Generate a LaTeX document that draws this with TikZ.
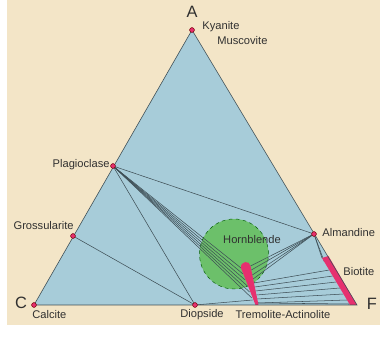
\documentclass[tikz,border=0pt]{standalone}
\usepackage{fontspec}
\setmainfont{Liberation Sans}
\usepackage{tikz}
\usetikzlibrary{shapes.geometric, positioning}

\definecolor{paper}{HTML}{F3E5C7}
\definecolor{facies}{HTML}{A7CCD9}
\definecolor{hbl}{HTML}{6CC06A}
\definecolor{sspink}{HTML}{E6306F}
\definecolor{tiegray}{HTML}{3E4E55}
\definecolor{textgray}{HTML}{303030}

\begin{document}
\begin{tikzpicture}[x=0.03cm, y=-0.03cm,
        mineral/.style={circle, draw=red!45!black, fill=sspink, inner sep=0pt, minimum size=4pt, line width=0.3pt},
        lbl/.style={font=\fontsize{9.5}{11}\selectfont, text=textgray, inner sep=1pt},
        corner/.style={font=\fontsize{14}{16}\selectfont, text=textgray, inner sep=0pt},
        tie/.style={draw=tiegray, line width=0.45pt}
    ]
        \useasboundingbox (0,0) rectangle (380,337);
        \fill[paper] (7,0) rectangle (380,325);

        % ================= TRIANGLE ACF =================
        \coordinate (A) at (192,30);
        \coordinate (C) at (34,305);
        \coordinate (F) at (357,305);
        \fill[facies] (A) -- (C) -- (F) -- cycle;

        % Hornblende field
        \node[ellipse, draw=green!35!black, dashed, fill=hbl, line width=0.4pt,
              minimum width=2.07cm, minimum height=2.1cm, inner sep=0pt] (hfield) at (234,254) {};

        % mineral points
        \node[mineral] (kya) at (A) {};
        \node[mineral] (cal) at (C) {};
        \node[mineral] (pla) at (113,166) {};
        \node[mineral] (gro) at (73,236) {};
        \node[mineral] (dio) at (195,305) {};
        \node[mineral] (alm) at (314,234) {};

        % points on Tremolite-Actinolite (left side, right side)
        \coordinate (tl1) at (241,268);
        \coordinate (tl2) at (243,274);
        \coordinate (tl3) at (245.2,280);
        \coordinate (tl4) at (247.4,286);
        \coordinate (tl5) at (249.6,292);
        \coordinate (tl6) at (251.8,298);
        \coordinate (tl7) at (252.6,300);
        \coordinate (tr1) at (250.5,266);
        \coordinate (tr2) at (251.3,270);
        \coordinate (tr3) at (252.3,275);
        \coordinate (tr4) at (253.1,279);
        \coordinate (tr5) at (253.9,283);
        \coordinate (tr6) at (254.7,287);
        \coordinate (tr7) at (255.5,291);
        \coordinate (tr8) at (256.3,295);
        \coordinate (tr9) at (257.1,299);
        \coordinate (tr10) at (257.8,303);

        % points on Biotite
        \coordinate (bt1) at (322,258);
        \coordinate (bt2) at (324.4,262);
        \coordinate (bt3) at (329.2,270);
        \coordinate (bt4) at (332.7,276);
        \coordinate (bt5) at (336.3,282);
        \coordinate (bt6) at (339.8,288);
        \coordinate (bt7) at (343.4,294);
        \coordinate (bt8) at (347,300);
        \coordinate (bt9) at (349.4,304);

        % ================= TIE LINES =================
        \draw[tie] (gro.center) -- (dio.center);
        \draw[tie] (pla.center) -- (dio.center);
        \draw[tie] (pla.center) -- (alm.center);
        \draw[tie] (pla.center) -- (tl1);
        \draw[tie] (pla.center) -- (tl2);
        \draw[tie] (pla.center) -- (tl3);
        \draw[tie] (pla.center) -- (tl4);
        \draw[tie] (pla.center) -- (tl5);
        \draw[tie] (pla.center) -- (tl6);
        \draw[tie] (dio.center) -- (tl7);
        \draw[tie] (alm.center) -- (tr1);
        \draw[tie] (alm.center) -- (tr2);
        \draw[tie] (alm.center) -- (tr3);
        \draw[tie] (alm.center) -- (tr4);
        \draw[tie] (alm.center) -- (bt1);
        \draw[tie] (alm.center) -- (bt2);
        \draw[tie] (tr5) -- (bt3);
        \draw[tie] (tr6) -- (bt4);
        \draw[tie] (tr7) -- (bt5);
        \draw[tie] (tr8) -- (bt6);
        \draw[tie] (tr9) -- (bt7);
        \draw[tie] (tr10) -- (bt8);
        \draw[tie] (tr10) -- (bt9);

        % Tremolite-Actinolite and Biotite solid solutions
        \fill[sspink] (tl1) .. controls (240,261) and (250,260) .. (tr1) -- (258.5,305) -- (255.5,305) -- cycle;
        \fill[sspink] (bt1) -- (328.5,256) -- (357,305) -- (350,305) -- cycle;

        \draw[tie, line width=0.5pt] (A) -- (C) -- (F) -- cycle;
        \node[mineral] at (kya) {};
        \node[mineral] at (cal) {};
        \node[mineral] at (pla) {};
        \node[mineral] at (gro) {};
        \node[mineral] at (dio) {};
        \node[mineral] at (alm) {};

        % ================= LABELS =================
        \node[corner] (lA) at (192,12) {A};
        \node[corner] (lC) at (21,303) {C};
        \node[corner] (lF) at (372,304) {F};
        \node[lbl, anchor=west] (lkya) at (201,27) {Kyanite};
        \node[lbl, anchor=west] (lmus) at (216,41) {Muscovite};
        \node[lbl, anchor=east] (lpla) at (111,165) {Plagioclase};
        \node[lbl, anchor=east] (lgro) at (75,226) {Grossularite};
        \node[lbl, anchor=west] (lalm) at (321,233) {Almandine};
        \node[lbl, anchor=west] (lbio) at (342,272) {Biotite};
        \node[lbl] (lhor) at (252,240) {Hornblende};
        \node[lbl, anchor=west] (lcal) at (31,315) {Calcite};
        \node[lbl] (ldio) at (202,315) {Diopside};
        \node[lbl] (ltre) at (283,315) {Tremolite-Actinolite};
    \end{tikzpicture}
\end{document}
